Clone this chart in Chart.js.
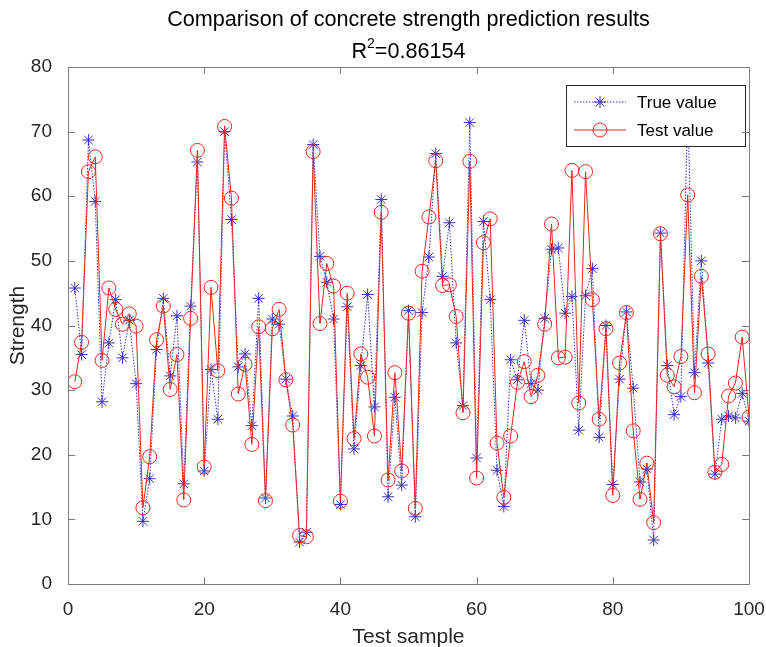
<!DOCTYPE html>
<html>
<head>
<meta charset="utf-8">
<script src="https://cdn.jsdelivr.net/npm/chart.js@4.4.1/dist/chart.umd.min.js"></script>
<style>
  html, body { margin: 0; padding: 0; background: #fff; }
  #wrap { width: 766px; height: 647px; }
</style>
</head>
<body>
<div id="wrap"><canvas id="strengthChart" width="766" height="647"></canvas></div>
<script>
var titleText = 'Comparison of concrete strength prediction results';
var r2Label = 'R';
var r2Power = '2';
var r2Value = '=0.86154';
var xTitle = 'Test sample';
var yTitle = 'Strength';
var seriesNames = ['True value', 'Test value'];
var xTicks = [0, 20, 40, 60, 80, 100];
var yTicks = [0, 10, 20, 30, 40, 50, 60, 70, 80];

// sample numbers 1..100
var samples = [];
for (var i = 1; i <= 100; i++) samples.push(i);

var trueValue = [45.8, 35.5, 68.7, 59.2, 28.2, 37.3, 44, 35, 40.8, 31,
  9.7, 16.3, 36.3, 44.2, 32.2, 41.5, 15.5, 43, 65.3, 17.5,
  33.2, 25.5, 70, 56.4, 33.6, 35.6, 24.5, 44.2, 13.3, 41,
  40.2, 31.7, 26, 6.5, 8, 68, 50.7, 46.7, 41, 12.3,
  42.9, 20.9, 33.8, 44.8, 27.4, 59.5, 13.5, 28.9, 15.3, 42.3,
  10.4, 42, 50.6, 66.6, 47.6, 55.9, 37.3, 27.6, 71.4, 19.5,
  56.1, 44, 17.6, 12, 34.7, 31.6, 40.8, 31, 30, 41.1,
  51.8, 52, 41.9, 44.5, 23.8, 44.6, 48.8, 22.7, 40, 15.4,
  31.7, 42.1, 30.3, 15.8, 17.8, 6.8, 54.3, 33.8, 26.2, 29,
  74, 32.7, 50, 34.2, 17, 25.5, 26, 25.7, 29.5, 25.2];

var testValue = [31.3, 37.4, 63.8, 66.1, 34.6, 45.8, 42.5, 40.2, 41.8, 39.9,
  11.8, 19.7, 37.8, 43, 30.1, 35.5, 13, 41.1, 67.1, 18.1,
  45.9, 33, 70.8, 59.7, 29.4, 34, 21.6, 39.8, 12.9, 39.5,
  42.5, 31.6, 24.6, 7.5, 7.3, 66.9, 40.3, 49.6, 46.1, 12.8,
  45, 22.5, 35.6, 32, 22.9, 57.5, 16.1, 32.7, 17.5, 41.9,
  11.7, 48.4, 56.8, 65.5, 46.2, 46.3, 41.4, 26.5, 65.4, 16.4,
  52.8, 56.5, 21.8, 13.4, 22.9, 31.2, 34.4, 29, 32.3, 40.2,
  55.7, 35, 35.1, 64, 28, 63.8, 44, 25.5, 39.5, 13.7,
  34.2, 42, 23.7, 13.1, 18.7, 9.5, 54.2, 32.3, 30.5, 35.2,
  60.2, 29.6, 47.6, 35.6, 17.3, 18.5, 29.1, 31.1, 38.2, 25.8];

var blue = '#3a30c4';
var red = '#e8261f';
var ink = '#262626';
var axisGrey = '#7a7a7a';
var fontFamily = '"Liberation Sans", Arial, Helvetica, sans-serif';

function toPoints(vals) {
  return vals.map(function(v, k) { return { x: samples[k], y: v }; });
}

// box, inward ticks, titles (centred on the plot like MATLAB)
var framePlugin = {
  id: 'frame',
  afterDraw: function(chart) {
    var ctx = chart.ctx, a = chart.chartArea;
    var xs = chart.scales.x, ys = chart.scales.y;
    ctx.save();
    ctx.strokeStyle = axisGrey;
    ctx.lineWidth = 1;
    ctx.strokeRect(Math.round(a.left) + 0.5, Math.round(a.top) + 0.5,
      Math.round(a.right - a.left), Math.round(a.bottom - a.top));
    ctx.beginPath();
    xTicks.forEach(function(t) {
      var px = Math.round(xs.getPixelForValue(t)) + 0.5;
      ctx.moveTo(px, a.bottom); ctx.lineTo(px, a.bottom - 7);
      ctx.moveTo(px, a.top); ctx.lineTo(px, a.top + 7);
    });
    yTicks.forEach(function(t) {
      var py = Math.round(ys.getPixelForValue(t)) + 0.5;
      ctx.moveTo(a.left, py); ctx.lineTo(a.left + 7, py);
      ctx.moveTo(a.right, py); ctx.lineTo(a.right - 7, py);
    });
    ctx.stroke();

    var cx = (a.left + a.right) / 2;
    ctx.fillStyle = '#000';
    ctx.textBaseline = 'alphabetic';
    ctx.textAlign = 'center';
    ctx.font = '21.6px ' + fontFamily;
    ctx.fillText(titleText, cx, 26);

    // R^2 line with a real superscript
    var big = '21.6px ' + fontFamily, small = '14px ' + fontFamily;
    ctx.font = big;
    var wR = ctx.measureText(r2Label).width, wV = ctx.measureText(r2Value).width;
    ctx.font = small;
    var w2 = ctx.measureText(r2Power).width;
    var sx = cx - (wR + w2 + wV) / 2;
    ctx.textAlign = 'left';
    ctx.font = big;
    ctx.fillText(r2Label, sx, 58);
    ctx.font = small;
    ctx.fillText(r2Power, sx + wR, 48);
    ctx.font = big;
    ctx.fillText(r2Value, sx + wR + w2, 58);

    // axis titles
    ctx.font = '21px ' + fontFamily;
    ctx.fillStyle = ink;
    ctx.textAlign = 'center';
    ctx.textBaseline = 'middle';
    ctx.fillText(xTitle, cx, 637);
    ctx.translate(18, (a.top + a.bottom) / 2);
    ctx.rotate(-Math.PI / 2);
    ctx.fillText(yTitle, 0, 0);
    ctx.restore();
  }
};

// legend box inside the top-right corner of the axes
var legendPlugin = {
  id: 'insideLegend',
  afterDatasetsDraw: function(chart) {
    var ctx = chart.ctx, a = chart.chartArea;
    var w = 179, h = 61;
    var x0 = Math.round(a.right - 4 - w), y0 = Math.round(a.top + 18);
    ctx.save();
    ctx.fillStyle = '#fff';
    ctx.fillRect(x0, y0, w, h);
    ctx.strokeStyle = ink;
    ctx.lineWidth = 1;
    ctx.strokeRect(x0 + 0.5, y0 + 0.5, w, h);
    ctx.font = '17px ' + fontFamily;
    ctx.textBaseline = 'middle';
    ctx.textAlign = 'left';
    chart.data.datasets.forEach(function(ds, k) {
      var y = y0 + 17 + k * 28;
      ctx.strokeStyle = ds.borderColor;
      ctx.lineWidth = 1;
      ctx.setLineDash(ds.borderDash || []);
      ctx.beginPath();
      ctx.moveTo(x0 + 8, y); ctx.lineTo(x0 + 60, y);
      ctx.stroke();
      ctx.setLineDash([]);
      ctx.fillStyle = 'rgba(0,0,0,0)';
      ctx.strokeStyle = ds.pointBorderColor;
      Chart.helpers.drawPoint(ctx, {
        pointStyle: ds.pointStyle, radius: ds.pointRadius, borderWidth: 1, rotation: 0
      }, x0 + 34, y);
      ctx.fillStyle = '#000';
      ctx.fillText(ds.label, x0 + 71, y + 1);
    });
    ctx.restore();
  }
};

new Chart(document.getElementById('strengthChart'), {
  type: 'line',
  data: {
    datasets: [{
      label: seriesNames[0],
      data: toPoints(trueValue),
      borderColor: blue,
      backgroundColor: 'transparent',
      borderWidth: 1,
      borderDash: [1.5, 1.5],
      pointStyle: 'star',
      pointRadius: 6,
      pointBorderColor: blue,
      pointBorderWidth: 1,
      tension: 0,
      order: 1
    }, {
      label: seriesNames[1],
      data: toPoints(testValue),
      borderColor: red,
      backgroundColor: 'transparent',
      borderWidth: 1,
      pointStyle: 'circle',
      pointRadius: 7,
      pointBorderColor: red,
      pointBackgroundColor: 'transparent',
      pointBorderWidth: 1,
      tension: 0,
      order: 0
    }]
  },
  options: {
    responsive: false,
    animation: false,
    layout: { padding: { top: 67, right: 17, left: 0, bottom: 0 } },
    scales: {
      x: {
        type: 'linear',
        min: 0,
        max: 100,
        afterBuildTicks: function(s) { s.ticks = xTicks.map(function(v) { return { value: v }; }); },
        afterFit: function(s) { s.height = 63; s.paddingLeft = 0; s.paddingRight = 0; },
        grid: { display: false },
        border: { display: false },
        ticks: { color: ink, font: { size: 19, family: fontFamily }, padding: 6, maxRotation: 0 }
      },
      y: {
        min: 0,
        max: 80,
        afterBuildTicks: function(s) { s.ticks = yTicks.map(function(v) { return { value: v }; }); },
        afterFit: function(s) { s.width = 68; s.paddingTop = 0; s.paddingBottom = 0; },
        grid: { display: false },
        border: { display: false },
        ticks: { color: ink, font: { size: 19, family: fontFamily }, padding: 8 }
      }
    },
    plugins: {
      legend: { display: false },
      title: { display: false },
      tooltip: { enabled: false }
    }
  },
  plugins: [framePlugin, legendPlugin]
});
</script>
</body>
</html>
